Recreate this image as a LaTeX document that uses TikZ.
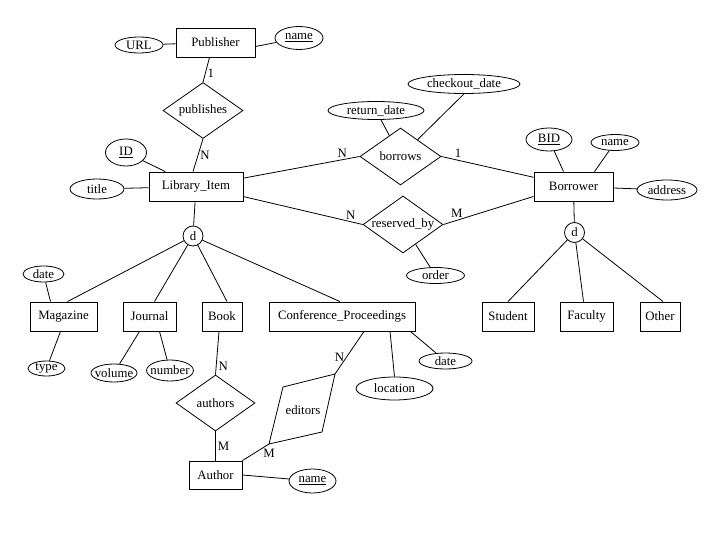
\documentclass[tikz,border=0pt]{standalone}
\usepackage{fontspec}
\setmainfont{Liberation Serif}
\usetikzlibrary{shapes.geometric}

\tikzset{
    entity/.style={draw, line width=0.9pt, minimum height=29pt, inner sep=2pt},
    attrib/.style={draw, ellipse, inner xsep=-3pt, inner ysep=-1.5pt, minimum height=16pt},
    relship/.style={draw, diamond, aspect=1.45, inner sep=0pt, minimum width=80pt, minimum height=56pt},
    disjoint/.style={draw, circle, inner sep=0pt, minimum size=20pt},
    card/.style={inner sep=2pt},
}

\begin{document}
\begin{tikzpicture}[x=1pt, y=-1pt, line width=0.8pt, font=\fontsize{12.8}{15}\selectfont]
    \useasboundingbox (0,0) rectangle (720,540);
    % Publisher and publishes
    \node[entity, minimum width=79pt] (pub) at (215.5,42.5) {Publisher};
    \node[attrib, minimum width=48pt] (url) at (139,45) {URL};
    \node[attrib, minimum width=48pt, minimum height=23pt] (pubname) at (299,38) {\underline{name}};
    \node[relship] (publishes) at (203,110.5) {publishes};
    % Library item with its attributes
    \node[entity, minimum width=94pt] (lib) at (196,186.5) {Library\_Item};
    \node[attrib, minimum width=41pt, minimum height=27pt] (id) at (126,152.5) {\underline{ID}};
    \node[attrib, minimum width=54pt, minimum height=20pt] (title) at (97,189) {title};
    \node[disjoint] (libd) at (193,236) {d};
    % borrows and reserved_by
    \node[relship, minimum width=81pt, minimum height=57pt] (borrows) at (400.5,156.5) {borrows};
    \node[attrib, minimum width=96pt, minimum height=18pt] (retdate) at (376,110.5) {return\_date};
    \node[attrib, minimum width=112pt, minimum height=19pt] (outdate) at (464,84) {checkout\_date};
    \node[relship, minimum height=57pt] (reserved) at (403,224.5) {reserved\_by};
    \node[attrib, minimum width=58pt] (order) at (435.5,275.5) {order};
    % Borrower and its subclasses
    \node[entity, minimum width=79pt] (borrower) at (573.5,186.5) {Borrower};
    \node[attrib, minimum width=46pt, minimum height=23pt] (bid) at (549,139.5) {\underline{BID}};
    \node[attrib, minimum width=48pt] (bname) at (615,142.5) {name};
    \node[attrib, minimum width=60pt, minimum height=20pt] (address) at (667,190) {address};
    \node[disjoint] (borrowd) at (574.5,232.5) {d};
    \node[entity, minimum width=52pt] (student) at (508,316.5) {Student};
    \node[entity, minimum width=53pt] (faculty) at (586.5,316.5) {Faculty};
    \node[entity, minimum width=40pt] (other) at (660,316.5) {Other};
    % Library item subclasses
    \node[entity, minimum width=67pt] (mag) at (63.5,316.5) {Magazine};
    \node[attrib, minimum width=41pt] (magdate) at (43.5,274) {date};
    \node[attrib, minimum width=37pt, minimum height=15pt] (type) at (46.5,368.5) {type};
    \node[entity, minimum width=53pt] (journal) at (149.5,316.5) {Journal};
    \node[attrib, minimum width=46pt, minimum height=18pt] (volume) at (114,373) {volume};
    \node[attrib, minimum width=46pt, minimum height=21pt] (number) at (170,370.5) {number};
    \node[entity, minimum width=40pt] (book) at (222,316.5) {Book};
    \node[entity, minimum width=146pt] (conf) at (342,316.5) {Conference\_Proceedings};
    \node[attrib, minimum width=77pt, minimum height=23pt] (location) at (394.5,388.5) {location};
    \node[attrib, minimum width=53pt] (confdate) at (445.5,361) {date};
    % Author, authors and editors
    \node[relship, minimum width=79pt] (authors) at (215.5,403) {authors};
    \node[entity, minimum width=53pt, minimum height=28pt] (author) at (215.5,475) {Author};
    \node[attrib, minimum width=47pt, minimum height=24pt] (aname) at (312.5,481) {\underline{name}};
    \coordinate (edn) at (335,374);
    \coordinate (edw) at (283,387);
    \coordinate (eds) at (269,444);
    \coordinate (ede) at (322,432);
    \draw (edn) -- (edw) -- (eds) -- (ede) -- cycle;
    \node (editors) at (303,410) {editors};

    % Connectors at the top
    \draw (url) -- (pub);
    \draw ([yshift=-4pt]pub.east) -- (pubname);
    \draw ([xshift=-6pt]pub.south) -- node[card, right, pos=0.65] (c1) {1} (publishes.north);
    \draw (publishes.south) -- node[card, right, pos=0.5] (c2) {N} ([xshift=-3pt]lib.north);
    \draw (id) -- (lib);
    \draw (title) -- (lib);
    \draw (lib) -- (libd);
    % borrows / reserved_by
    \draw (lib.10) -- node[card, above, pos=0.85] (c3) {N} (borrows.west);
    \draw (borrows.east) -- node[card, above, pos=0.18] (c4) {1} (borrower.167);
    \draw (lib.-12) -- node[card, above, pos=0.9] (c5) {N} (reserved.west);
    \draw (reserved.east) -- node[card, above, pos=0.15] (c6) {M} (borrower.194);
    \draw (retdate) -- (borrows);
    \draw (outdate.south) -- (borrows);
    \draw (order) -- (reserved);
    % Borrower side
    \draw (bid) -- ([xshift=-10pt]borrower.north);
    \draw (bname) -- ([xshift=21pt]borrower.north);
    \draw (borrower) -- (address);
    \draw (borrower) -- (borrowd);
    \draw (borrowd) -- (student.north);
    \draw (borrowd) -- ([xshift=-3pt]faculty.north);
    \draw (borrowd) -- ([xshift=3pt]other.north);
    % Library item subclasses
    \draw (libd) -- ([xshift=4pt]mag.north);
    \draw (libd) -- ([xshift=5pt]journal.north);
    \draw (libd) -- ([xshift=5pt]book.north);
    \draw (libd) -- ([xshift=-2pt]conf.north);
    \draw (magdate) -- ([xshift=-13pt]mag.north);
    \draw (type) -- ([xshift=-3pt]mag.south);
    \draw (volume) -- ([xshift=-10pt]journal.south);
    \draw (number) -- ([xshift=10pt]journal.south);
    \draw ([xshift=48pt]conf.south) -- (location.north);
    \draw ([xshift=-5pt]conf.south east) -- (confdate);
    % authors and editors
    \draw ([xshift=-3pt]book.south) -- node[card, right, pos=0.8] (c7) {N} (authors.north);
    \draw (authors.south) -- node[card, right, pos=0.5] (c8) {M} (author.north);
    \draw (author.east) -- (aname);
    \draw ([xshift=22pt]conf.south) -- node[card, left, pos=0.6] (c9) {N} (edn);
    \draw (author.north east) -- node[card, pos=1, below=3pt] (c10) {M} (eds);
\end{tikzpicture}
\end{document}
